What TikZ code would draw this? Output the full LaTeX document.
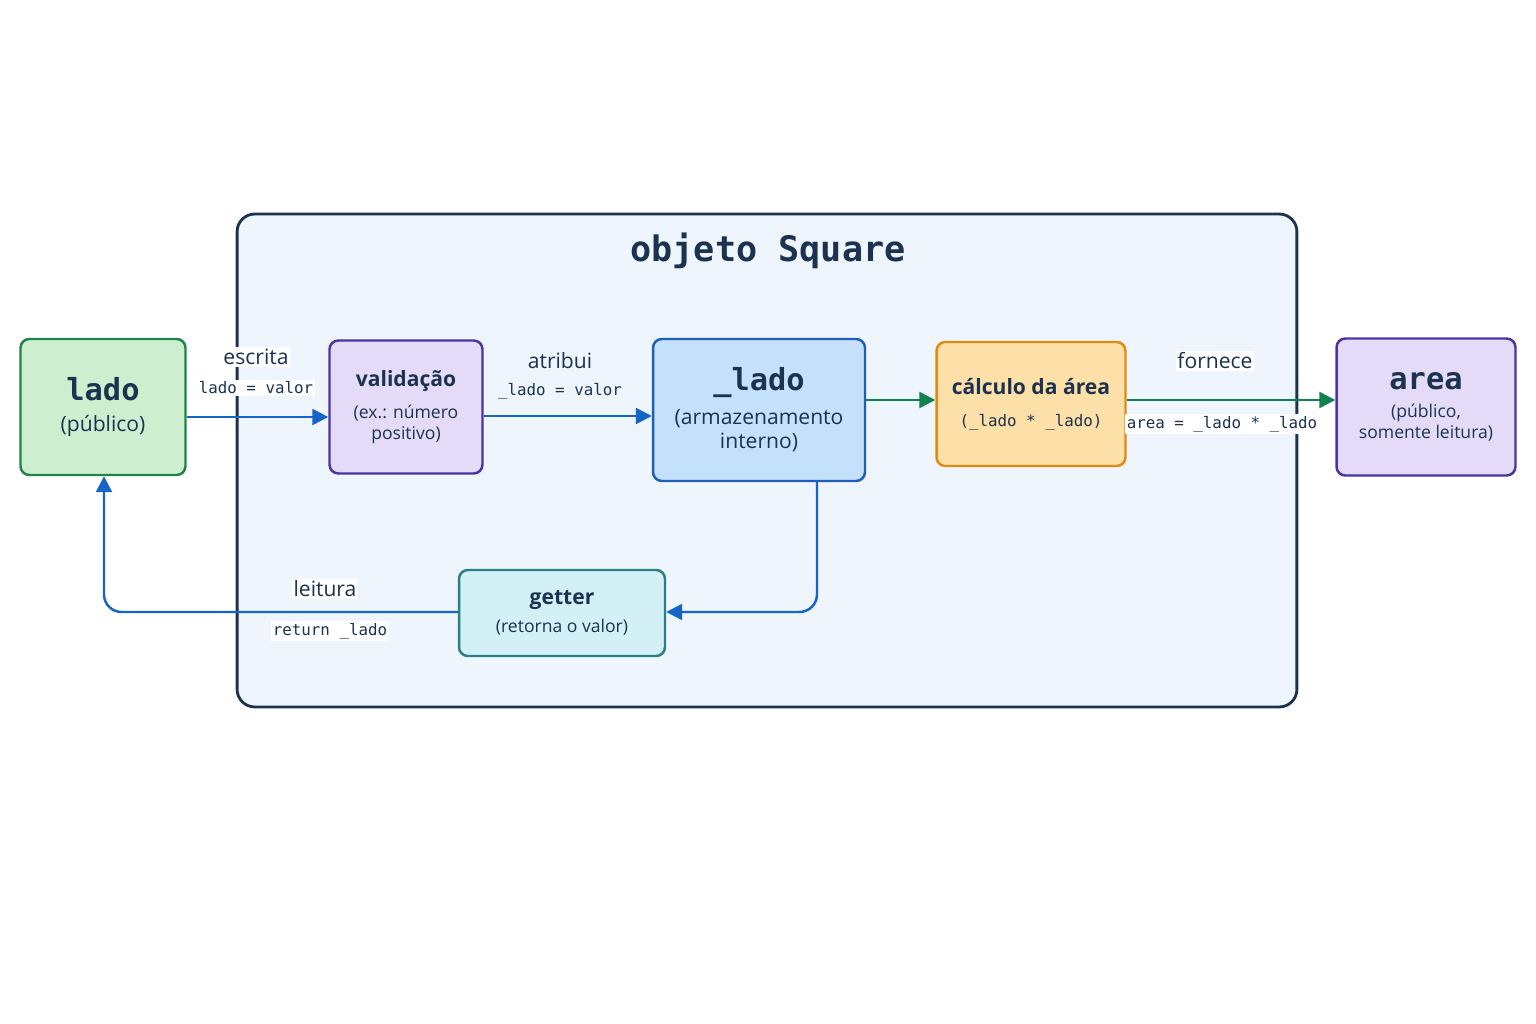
\documentclass[tikz,border=0pt]{standalone}
\usepackage{fontspec}
\setmainfont{Open Sans}
\newfontfamily\codefont{DejaVu Sans Mono}
\usetikzlibrary{arrows.meta}
\definecolor{navy}{HTML}{1B3350}
\definecolor{outerfill}{HTML}{EFF5FD}
\definecolor{grn}{HTML}{1E8449}\definecolor{grnfill}{HTML}{CDEFD0}
\definecolor{pur}{HTML}{4A35A0}\definecolor{purfill}{HTML}{E3DBF7}
\definecolor{blu}{HTML}{1F5FB5}\definecolor{blufill}{HTML}{C4E0FA}
\definecolor{org}{HTML}{E08A12}\definecolor{orgfill}{HTML}{FDDFA8}
\definecolor{tea}{HTML}{2A7F80}\definecolor{teafill}{HTML}{D2F0F5}
\definecolor{arrblue}{HTML}{1565C8}
\definecolor{arrgreen}{HTML}{138050}
\begin{document}
\begin{tikzpicture}[x=0.02cm,y=-0.02cm,
    box/.style={draw, line width=1.4pt, rounded corners=5pt, align=center, text=navy, inner sep=2pt},
    flow/.style={-{Triangle[length=9pt,width=9pt]}, line width=1.4pt, draw=arrblue},
    gflow/.style={flow, draw=arrgreen},
    lbl/.style={text=navy, font=\large, fill=outerfill, inner sep=1pt},
    code/.style={lbl, font=\codefont\small}]
    \useasboundingbox (0,0) rectangle (1536,1024);
    \node[draw=navy, fill=outerfill, line width=1.6pt, rounded corners=10pt,
          minimum width=21.2cm, minimum height=9.86cm] (obj) at (767,460.5) {};
    \node[text=navy, font=\codefont\fontsize{20}{24}\selectfont\bfseries] (title) at (768,251) {objeto Square};

    \node[box, draw=grn, fill=grnfill, minimum width=3.3cm, minimum height=2.72cm, font=\large] (lado) at (103,407)
        {{\codefont\LARGE\bfseries lado}\\[4pt](público)};
    \node[box, draw=pur, fill=purfill, minimum width=3.06cm, minimum height=2.66cm] (valid) at (406,407)
        {{\large\bfseries validação}\\[6pt](ex.: número\\positivo)};
    \node[box, draw=blu, fill=blufill, minimum width=4.24cm, minimum height=2.84cm, font=\large] (priv) at (759,410)
        {{\codefont\LARGE\bfseries \_lado}\\[5pt](armazenamento\\interno)};
    \node[box, draw=org, fill=orgfill, minimum width=3.78cm, minimum height=2.48cm] (calc) at (1031,404)
        {{\large\bfseries cálculo da área}\\[6pt]{\codefont\small (\_lado * \_lado)}};
    \node[box, draw=pur, fill=purfill, minimum width=3.58cm, minimum height=2.74cm] (area) at (1426,407)
        {{\codefont\LARGE\bfseries area}\\[4pt](público,\\somente leitura)};
    \node[box, draw=tea, fill=teafill, minimum width=4.12cm, minimum height=1.72cm] (get) at (562,613)
        {{\large\bfseries getter}\\[4pt](retorna o valor)};

    \draw[flow] (lado.east |- 0,417) -- (valid.west |- 0,417);
    \draw[flow] (valid.east |- 0,416) -- (priv.west |- 0,416);
    \draw[gflow] (priv.east |- 0,400) -- (calc.west |- 0,400);
    \draw[gflow] (calc.east |- 0,400) -- (area.west |- 0,400);
    \draw[flow, rounded corners=10pt] (priv.south -| 817,0) -- (817,612) -- (get.east |- 0,612);
    \draw[flow, rounded corners=10pt] (get.west |- 0,612) -- (104,612) -- (lado.south -| 104,0);

    \node[lbl, fill=white] (l1) at (256,357) {escrita};
    \node[code, fill=white] (c1) at (256,388) {lado = valor};
    \node[lbl] (l2) at (560,361) {atribui};
    \node[code] (c2) at (560,391) {\_lado = valor};
    \node[lbl, fill=white] (l3) at (1215,361) {fornece};
    \node[code, fill=white] (c3) at (1222,424) {area = \_lado * \_lado};
    \node[lbl, fill=white] (l4) at (325,589) {leitura};
    \node[code, fill=white] (c4) at (330,631) {return \_lado};
\end{tikzpicture}
\end{document}
